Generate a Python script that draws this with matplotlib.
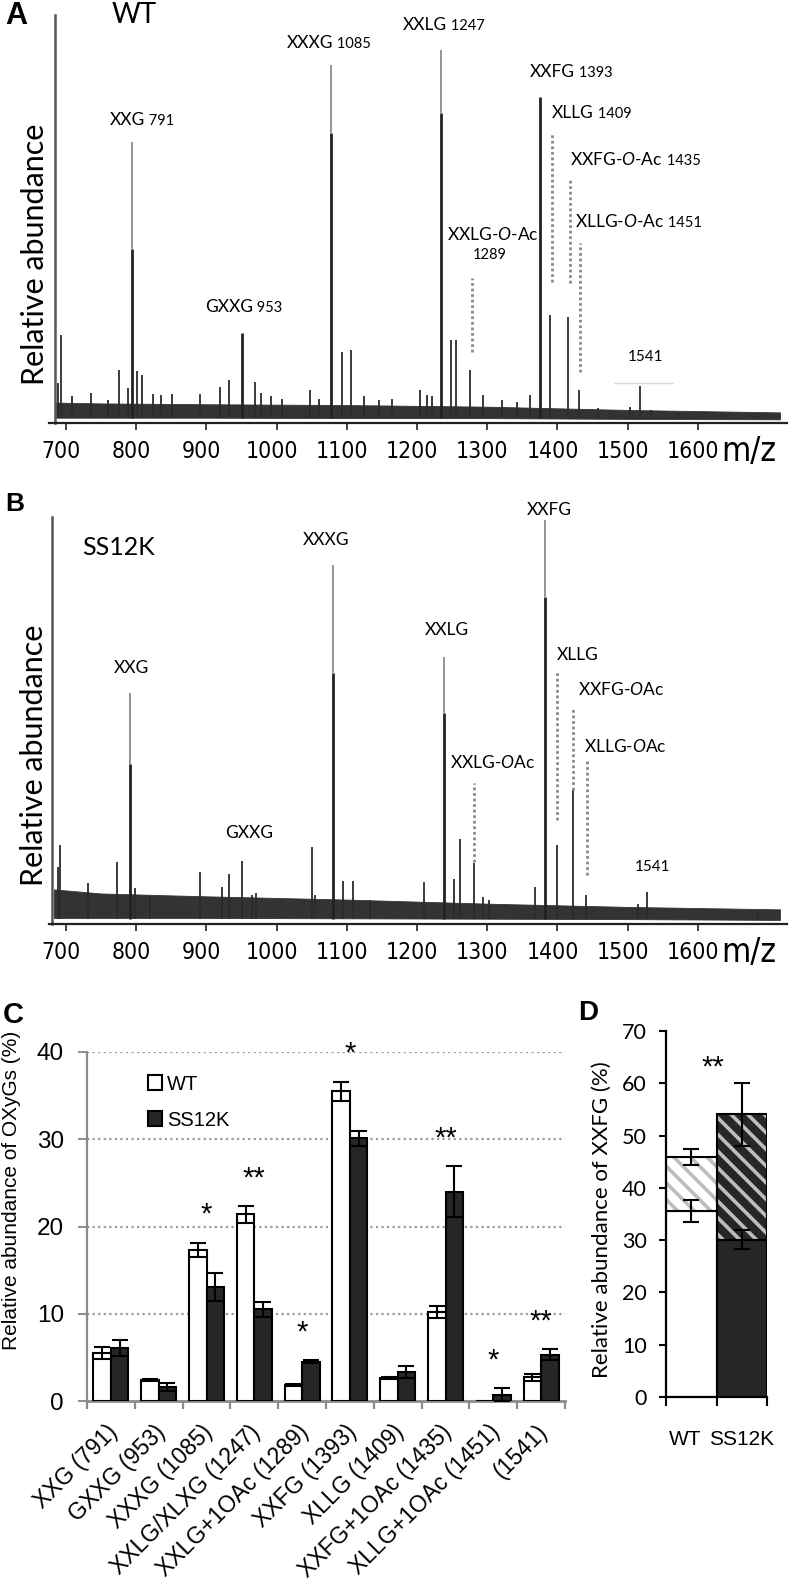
import numpy as np
import matplotlib
matplotlib.use('Agg')
import matplotlib.pyplot as plt
from matplotlib import font_manager
from matplotlib.font_manager import FontProperties
import matplotlib.transforms as mtransforms

W, H, DPI = 789, 1581, 100

names = {f.name for f in font_manager.fontManager.ttflist}
ARIAL = 'Liberation Sans'
CAL = 'Lato' if 'Lato' in names else 'Open Sans'

# a condensed sans for the spectrum axes, if one is installed
cond = [f for f in font_manager.fontManager.ttflist
        if ('Narrow' in f.name or 'Condensed' in f.name or 'condensed' in str(f.stretch))
        and f.style == 'normal' and f.weight in (400, 'normal', 'regular')]
COND_FILE = cond[0].fname if cond else None


def cond_font(size):
    if COND_FILE:
        return FontProperties(fname=COND_FILE, size=size)
    return FontProperties(family=ARIAL, size=size * 0.9)


plt.rcParams['font.family'] = [ARIAL, 'DejaVu Sans']
plt.rcParams['mathtext.fontset'] = 'custom'
plt.rcParams['mathtext.rm'] = CAL
plt.rcParams['mathtext.it'] = CAL + ':italic'
plt.rcParams['hatch.linewidth'] = 2.6

# ---------------- data: panel A (WT spectrum), heights in % of axis height
wt_major_mz = [794, 951, 1077, 1234, 1375]
wt_major_h = [68.9, 22.0, 87.7, 91.4, 79.9]
wt_major_light = [0.38, 0.0, 0.19, 0.17, 0.0]
wt_minor_mz = [688, 693, 708, 735, 760, 776, 788, 801, 808, 824, 835, 851, 891, 919, 932,
               969, 978, 992, 1007, 1048, 1060, 1093, 1106, 1125, 1146, 1164, 1204, 1214,
               1221, 1249, 1256, 1275, 1294, 1321, 1343, 1361, 1390, 1415, 1431, 1458,
               1504, 1517, 1533, 1572, 1637, 1680]
wt_minor_h = [9.7, 21.6, 6.5, 7.3, 5.6, 13.0, 8.5, 12.8, 11.8, 7.0, 6.9, 7.0, 7.0, 8.9, 10.5,
              10.1, 7.3, 6.5, 6.0, 8.0, 6.0, 17.5, 17.9, 6.5, 5.6, 6.0, 8.0, 6.9,
              6.5, 20.3, 20.3, 13.0, 6.9, 5.6, 5.2, 6.9, 26.5, 26.0, 8.0, 3.6,
              4.0, 9.0, 3.2, 2.4, 2.0, 2.0]
wt_band_mz = [686, 750, 900, 1100, 1300, 1500, 1717]
wt_band_top = [5.0, 4.8, 4.6, 4.4, 4.0, 3.2, 2.6]
wt_band_bot = [1.3, 1.3, 1.3, 1.2, 1.2, 1.0, 0.9]

wt_lab_name = ['XXG', 'GXXG', 'XXXG', 'XXLG', r'XXLG-$\mathit{O}$-Ac', 'XXFG', 'XLLG',
               r'XXFG-$\mathit{O}$-Ac', r'XLLG-$\mathit{O}$-Ac']
wt_lab_num = ['791', '953', '1085', '1247', '', '1393', '1409', '1435', '1451']
wt_lab_mz = [762.7, 898, 1014.8, 1180, 1242.7, 1361, 1392, 1418, 1425]
wt_lab_y = [74.3, 28.4, 93.1, 97.5, 46.1, 86.0, 76.0, 64.5, 49.3]
wt_lead_mz = [1278.3, 1392.3, 1418, 1432]
wt_lead_lo = [17.4, 34.6, 34.3, 12.5]
wt_lead_hi = [35.5, 71.3, 59.6, 44.1]

# ---------------- data: panel B (SS12K spectrum)
ss_major_mz = [791, 1080, 1238, 1382]
ss_major_h = [56.8, 88.2, 65.6, 99.3]
ss_major_light = [0.31, 0.30, 0.21, 0.19]
ss_minor_mz = [688, 691, 731, 773, 798, 820, 891, 922, 932, 951, 965, 971, 1050, 1055,
               1095, 1109, 1133, 1210, 1253, 1261, 1281, 1294, 1303, 1368, 1399, 1422,
               1441, 1515, 1528, 1686]
ss_minor_h = [14.0, 19.4, 10.0, 15.2, 8.8, 7.0, 12.8, 9.1, 12.3, 15.5, 7.1, 7.6, 18.9, 7.1,
              10.6, 10.6, 5.9, 10.3, 11.0, 20.9, 15.0, 6.6, 5.9, 9.1, 19.4, 32.9,
              7.1, 4.9, 7.9, 3.4]
ss_band_mz = [683, 750, 900, 1100, 1300, 1500, 1717]
ss_band_top = [8.5, 7.5, 6.8, 6.0, 5.0, 4.2, 3.6]
ss_band_bot = [1.5, 1.5, 1.5, 1.4, 1.3, 1.2, 1.0]

ss_lab_name = ['XXG', 'GXXG', 'XXXG', 'XXLG', r'XXLG-$\mathit{O}$Ac', 'XXFG', 'XLLG',
               r'XXFG-$\mathit{O}$Ac', r'XLLG-$\mathit{O}$Ac']
ss_lab_mz = [768.4, 926.5, 1037.6, 1211.4, 1247, 1356.7, 1399.4, 1429.3, 1437.9]
ss_lab_y = [62.9, 22.4, 94.3, 72.2, 39.6, 101.7, 66.1, 57.5, 43.7]
ss_lead_mz = [1281.2, 1399.4, 1422.2, 1442.2]
ss_lead_lo = [15.2, 25.6, 32.9, 12.0]
ss_lead_hi = [34.6, 61.9, 53.3, 40.0]

mz_ticks = [700, 800, 900, 1000, 1100, 1200, 1300, 1400, 1500, 1600]

# ---------------- data: panel C
categories = ['XXG (791)', 'GXXG (953)', 'XXXG (1085)', 'XXLG/XLXG (1247)', 'XXLG+1OAc (1289)',
              'XXFG (1393)', 'XLLG (1409)', 'XXFG+1OAc (1435)', 'XLLG+1OAc (1451)', '(1541)']
wt_vals = [5.5, 2.4, 17.3, 21.4, 1.8, 35.5, 2.6, 10.2, 0.0, 2.7]
wt_err = [0.7, 0.15, 0.85, 0.95, 0.1, 1.1, 0.1, 0.7, 0.0, 0.4]
ss_vals = [6.1, 1.6, 13.1, 10.5, 4.5, 30.1, 3.3, 24.0, 0.7, 5.3]
ss_err = [0.9, 0.5, 1.6, 0.9, 0.2, 0.9, 0.7, 2.9, 0.75, 0.65]
signif = ['', '', '*', '**', '*', '*', '', '**', '*', '**']

# ---------------- data: panel D
d_groups = ['WT', 'SS12K']
d_xxfg = [35.6, 30.1]
d_xxfg_err = [2.15, 1.8]
d_total = [45.9, 54.1]
d_total_err = [1.45, 6.0]

fig = plt.figure(figsize=(W / DPI, H / DPI), dpi=DPI)


def px_axes(left, top, right, bottom):
    return fig.add_axes([left / W, 1 - bottom / H, (right - left) / W, (bottom - top) / H])


def spectrum(ax, mz, h, light, mmz, mh, bmz, btop, bbot, yaxis_mz):
    ax.set_xlim(675.8, 1727)
    ax.set_ylim(0, 100)
    ax.fill_between(bmz, bbot, btop, color='#333333', lw=0.6, edgecolor='#333333')
    ax.vlines(mmz, 1.2, mh, color='#2b2b2b', lw=1.3)
    h = np.array(h)
    split = h * (1 - np.array(light))
    ax.vlines(mz, 1.2, split, color='#222222', lw=2.0)
    ax.vlines(mz, split, h, color='#8c8c8c', lw=1.3)
    for s in ('top', 'right'):
        ax.spines[s].set_visible(False)
    ax.spines['left'].set_position(('data', yaxis_mz))
    ax.spines['left'].set_color('#555555')
    ax.spines['left'].set_linewidth(1.8)
    ax.spines['bottom'].set_color('#222222')
    ax.spines['bottom'].set_linewidth(1.6)
    ax.set_yticks([])
    ax.set_xticks(mz_ticks)
    ax.tick_params(axis='x', length=5, width=1.2, color='#222222', pad=7)
    off = mtransforms.ScaledTranslation(-5 / DPI, 0, fig.dpi_scale_trans)
    for lab in ax.get_xticklabels():
        lab.set_fontproperties(cond_font(16.5))
        lab.set_transform(lab.get_transform() + off)
    ax.text(0.985, -0.07, 'm/z', transform=ax.transAxes, ha='right', va='center',
            fontproperties=cond_font(24))


def peak_label(ax, name, num, x, y):
    t = ax.text(x, y, name, ha='left', va='center', fontsize=12.5, family=CAL, clip_on=False)
    if num:
        ax.annotate(' ' + num, xy=(1, 0), xycoords=t, ha='left', va='bottom',
                    fontsize=10.5, family=CAL, annotation_clip=False)


dot = (0, (1.0, 1.0))

# ---------------- panel A
axa = px_axes(49, 15, 787, 423)
spectrum(axa, wt_major_mz, wt_major_h, wt_major_light, wt_minor_mz, wt_minor_h,
         wt_band_mz, wt_band_top, wt_band_bot, 684.3)
axa.vlines(wt_lead_mz, wt_lead_lo, wt_lead_hi, color='#8a8a8a', lw=2.0, linestyles=[dot])
for n, num, x, y in zip(wt_lab_name, wt_lab_num, wt_lab_mz, wt_lab_y):
    peak_label(axa, n, num, x, y)
axa.text(1304, 41.2, '1289', ha='center', va='center', fontsize=10.5, family=CAL)
axa.text(1526, 16.2, '1541', ha='center', va='center', fontsize=11, family=CAL)
axa.hlines(9.9, 1480, 1565, color='#d8d8d8', lw=1)
axa.text(765.5, 100, 'WT', ha='left', va='center', fontsize=20, family=CAL, clip_on=False)
fig.text(35 / W, 1 - 254 / H, 'Relative abundance', rotation=90, ha='center',
         va='center', fontsize=22, family=CAL)

# ---------------- panel B
axb = px_axes(49, 517, 787, 924)
spectrum(axb, ss_major_mz, ss_major_h, ss_major_light, ss_minor_mz, ss_minor_h,
         ss_band_mz, ss_band_top, ss_band_bot, 680)
axb.vlines(ss_lead_mz, ss_lead_lo, ss_lead_hi, color='#8a8a8a', lw=2.0, linestyles=[dot])
for n, x, y in zip(ss_lab_name, ss_lab_mz, ss_lab_y):
    peak_label(axb, n, '', x, y)
axb.text(1534.8, 14.0, '1541', ha='center', va='center', fontsize=11, family=CAL)
axb.text(722.8, 92.6, 'SS12K', ha='left', va='center', fontsize=18, family=CAL)
fig.text(34 / W, 1 - 755 / H, 'Relative abundance', rotation=90, ha='center', va='center',
         fontsize=22, family=CAL)

# ---------------- panel C
axc = px_axes(87, 1052, 565, 1401)
xc = np.arange(len(categories)) + 0.5
bw = 0.366
axc.set_xlim(0, len(categories))
axc.set_ylim(0, 40)
axc.set_yticks([0, 10, 20, 30, 40])
axc.yaxis.grid(True, color='#9a9a9a', linestyle=(0, (1, 1.5)), lw=1.6, zorder=0)
axc.bar(xc - bw / 2, wt_vals, bw, color='white', edgecolor='black', lw=1.5, zorder=3, label='WT')
axc.bar(xc + bw / 2, ss_vals, bw, color='#262626', edgecolor='black', lw=1.5, zorder=3, label='SS12K')
for xs, v, e in ((xc - bw / 2, wt_vals, wt_err), (xc + bw / 2, ss_vals, ss_err)):
    v = np.array(v); e = np.array(e)
    m = v > 0
    axc.errorbar(xs[m], v[m], yerr=e[m], fmt='none', ecolor='black', elinewidth=1.5,
                 capsize=6, capthick=1.5, zorder=4)
tops = np.maximum(np.array(wt_vals) + np.array(wt_err), np.array(ss_vals) + np.array(ss_err))
for x, t, s in zip(xc, tops, signif):
    if s:
        axc.text(x, t + 3.2, s, ha='center', va='center', fontsize=21, clip_on=False)
for s in ('top', 'right'):
    axc.spines[s].set_visible(False)
axc.spines['left'].set_color('#8c8c8c')
axc.spines['left'].set_linewidth(1.6)
axc.spines['bottom'].set_color('#8c8c8c')
axc.spines['bottom'].set_linewidth(2.0)
axc.tick_params(axis='y', length=6.5, width=1.4, color='#8c8c8c', pad=10, labelsize=17.5)
axc.set_xticks(np.arange(len(categories) + 1), minor=True)
axc.set_xticks([])
axc.tick_params(axis='x', which='minor', length=6, width=1.6, color='#8c8c8c')
for x, c in zip(xc, categories):
    axc.annotate(c, xy=(x, 0), xytext=(2, -20), textcoords='offset points',
                 ha='right', va='center', rotation=45, rotation_mode='anchor',
                 fontsize=16.5, annotation_clip=False)
axc.legend(loc='upper left', bbox_to_anchor=(0.128, 0.935), frameon=False,
           fontsize=14.5, handlelength=0.7, handleheight=0.75, labelspacing=0.85,
           handletextpad=0.25, borderpad=0, borderaxespad=0)
fig.text(12 / W, 1 - 1190 / H, 'Relative abundance of OXyGs (%)', rotation=90,
         ha='center', va='center', fontsize=15)

# ---------------- panel D
axd = px_axes(666, 1031, 767, 1397)
xd = np.arange(len(d_groups)) + 0.5
axd.set_xlim(0, 2)
axd.set_ylim(0, 70)
axd.bar(xd, d_xxfg, 1.0, color=['white', '#262626'], edgecolor='black', lw=1.5, zorder=2)
upper = np.array(d_total) - np.array(d_xxfg)
axd.bar(xd, upper, 1.0, bottom=d_xxfg, color=['white', '#262626'], edgecolor='#bdbdbd',
        lw=0, hatch='\\\\', zorder=2)
axd.bar(xd, upper, 1.0, bottom=d_xxfg, fill=False, edgecolor='black', lw=1.5, zorder=3)
axd.errorbar(xd, d_xxfg, yerr=d_xxfg_err, fmt='none', ecolor='black', elinewidth=1.5,
             capsize=6, capthick=1.5, zorder=4)
axd.errorbar(xd, d_total, yerr=d_total_err, fmt='none', ecolor='black', elinewidth=1.5,
             capsize=6, capthick=1.5, zorder=4)
axd.text(0.93, max(np.array(d_total) + np.array(d_total_err)) + 3.0, '**', ha='center',
         va='center', fontsize=21)
for s in ('top', 'right'):
    axd.spines[s].set_visible(False)
for s in ('left', 'bottom'):
    axd.spines[s].set_linewidth(1.6)
axd.set_yticks(range(0, 71, 10))
axd.tick_params(axis='y', length=5, width=1.5, pad=9, labelsize=15.5, labelfontfamily=CAL)
axd.set_xticks(xd, d_groups)
axd.set_xticks([0, 1, 2], minor=True)
axd.tick_params(axis='x', which='major', length=0, pad=24, labelsize=15)
axd.tick_params(axis='x', which='minor', length=6.5, width=1.5)
wt_lab = axd.get_xticklabels()[0]
wt_lab.set_transform(wt_lab.get_transform()
                     + mtransforms.ScaledTranslation(-6 / DPI, 0, fig.dpi_scale_trans))
fig.text(602 / W, 1 - 1220 / H, 'Relative abundance of XXFG (%)', rotation=90,
         ha='center', va='center', fontsize=16, family=CAL)

# ---------------- panel letters
for letter, x, y, size in (('A', 5, 16, 22), ('B', 5, 504, 19), ('C', 3, 1015, 21), ('D', 578, 1013, 20)):
    fig.text(x / W, 1 - y / H, letter, ha='left', va='center', fontsize=size, weight='bold')

fig.savefig('out.png', dpi=DPI)
